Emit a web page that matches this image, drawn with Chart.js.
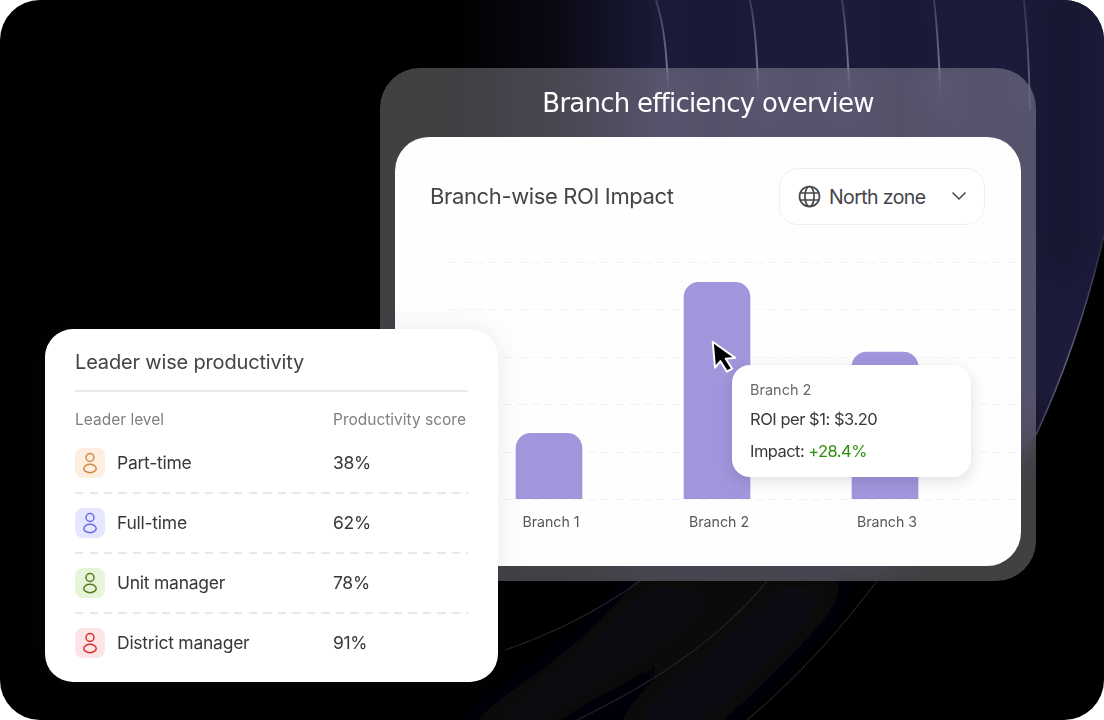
<!DOCTYPE html>
<html><head><meta charset="utf-8">
<script src="https://cdn.jsdelivr.net/npm/chart.js@4"></script>
<style>
html,body{margin:0;padding:0;background:#fff}
#page{position:relative;width:1104px;height:720px;overflow:hidden;font-family:Inter,sans-serif;background:#fff}
#bg{position:absolute;inset:0;border-radius:40px;background:#000;overflow:hidden}
#bg svg{position:absolute;left:0;top:0}
#glass{position:absolute;left:380px;top:68px;width:656px;height:513px;border-radius:40px;background:rgba(250,244,255,.262);backdrop-filter:blur(14px)}
#title{position:absolute;left:0;width:100%;top:17px;text-align:center;color:#fff;font-size:26px;font-weight:500;line-height:36px;font-family:"DejaVu Sans",sans-serif;letter-spacing:-.77px}
#card{position:absolute;left:395px;top:137px;width:626px;height:429px;border-radius:34px;background:#fefefe;overflow:hidden}
#card canvas{position:absolute;left:0;top:0}
#h2{position:absolute;left:35px;top:44px;font-size:22px;line-height:30px;color:#454448;letter-spacing:-.37px}
#dd{position:absolute;left:384px;top:31px;width:204px;height:55px;border:1px solid #efedf0;border-radius:19px;background:#fff;box-sizing:content-box}
#dd svg{position:absolute}
#dd span{position:absolute;left:49px;top:14px;font-size:19.5px;line-height:28px;color:#444347;letter-spacing:-.6px}
#tip{position:absolute;left:732px;top:365px;width:239px;height:112px;border-radius:18px;background:#fff;box-shadow:0 4px 14px rgba(60,50,90,.16)}
#tip div{position:absolute;left:18px;white-space:nowrap}
#t1{top:15px;font-size:14.5px;line-height:20px;color:#69686c}
#t2{top:42px;font-size:16.5px;line-height:24px;color:#3a393d;letter-spacing:-.47px}
#t3{top:74px;font-size:16.5px;line-height:24px;color:#3a393d;letter-spacing:-.55px}
#t3 b{font-weight:400;color:#2f8f0c}
#cursor{position:absolute;left:706px;top:336px}
#left{position:absolute;left:45px;top:329px;width:453px;height:353px;border-radius:28px;background:#fff;box-shadow:0 0 26px rgba(70,60,110,.10)}
#lt{position:absolute;left:30px;top:19px;font-size:20px;line-height:28px;color:#444347;letter-spacing:-.17px}
#ld{position:absolute;left:30px;top:61px;width:393px;height:2px;background:#e9e9eb}
.th{position:absolute;top:80px;font-size:15.5px;line-height:22px;color:#808083}
.row{position:absolute;left:30px;width:393px;height:30px}
.row svg{position:absolute;left:0;top:0}
.row .n{position:absolute;left:42px;top:1px;font-size:17.5px;line-height:28px;color:#38373b;letter-spacing:-.25px}
.row .s{position:absolute;left:258px;top:1px;font-size:17.5px;line-height:28px;color:#38373b;letter-spacing:-.3px}
.dash{position:absolute;left:30px;width:393px;height:2px;background:repeating-linear-gradient(90deg,#e8e8ea 0 8px,transparent 8px 14.5px)}
</style></head><body>
<div id="page">
 <div id="bg">
 <svg width="1104" height="720" viewBox="0 0 1104 720">
  <defs>
   <linearGradient id="navy" gradientUnits="userSpaceOnUse" x1="450" y1="0" x2="665" y2="0">
    <stop offset="0" stop-color="#1c1b3a" stop-opacity="0"/><stop offset=".5" stop-color="#1c1b3a" stop-opacity=".35"/><stop offset="1" stop-color="#1c1b3a"/>
   </linearGradient>
   <linearGradient id="fade" gradientUnits="userSpaceOnUse" x1="0" y1="380" x2="0" y2="575">
    <stop offset="0" stop-color="#000" stop-opacity="0"/><stop offset="1" stop-color="#000" stop-opacity=".72"/>
   </linearGradient>
   <linearGradient id="edge" gradientUnits="userSpaceOnUse" x1="1104" y1="235" x2="1030" y2="440">
    <stop offset="0" stop-color="#2a2a48"/><stop offset=".6" stop-color="#60607c"/><stop offset="1" stop-color="#3e3e56"/>
   </linearGradient>
   <linearGradient id="ar" gradientUnits="userSpaceOnUse" x1="0" y1="0" x2="0" y2="70">
    <stop offset="0" stop-color="#3c3c58"/><stop offset="1" stop-color="#74748f"/>
   </linearGradient>
   <filter id="b1" filterUnits="userSpaceOnUse" x="300" y="-100" width="900" height="950"><feGaussianBlur stdDeviation="20"/></filter>
   <filter id="b2" filterUnits="userSpaceOnUse" x="400" y="-20" width="720" height="780"><feGaussianBlur stdDeviation=".5"/></filter>
   <clipPath id="reg"><path d="M450 0H1104V235C1088 305 1066 370 1036 435C985 500 930 550 877 575L450 575Z"/></clipPath>
  </defs>
  <g clip-path="url(#reg)">
   <rect x="450" y="0" width="654" height="576" fill="url(#navy)"/>
   <rect x="450" y="380" width="654" height="196" fill="url(#fade)"/>
   <g fill="#000" opacity=".2" filter="url(#b1)">
    <rect x="700" y="-20" width="24" height="240"/><rect x="890" y="-20" width="22" height="240"/><rect x="1045" y="-20" width="36" height="300"/>
   </g>
  </g>
  <g fill="none" stroke="url(#ar)" stroke-width="1.9" filter="url(#b2)">
   <path d="M656 0C664 25 667 50 669 110"/>
   <path d="M750 0C755 25 757 50 759 110"/>
   <path d="M842 0C846 25 848 50 850 110"/>
   <path d="M934 0C937 25 939 50 941 110"/>
   <path d="M1024 0C1027 30 1029 60 1030 110" opacity=".7"/>
  </g>
  <path d="M1104 235C1088 305 1066 370 1036 435" fill="none" stroke="url(#edge)" stroke-width="1.5" filter="url(#b2)"/>
  <g filter="url(#b1)" fill="#111119">
   <path d="M860 575C810 640 760 690 700 740L590 740C650 690 720 640 775 575Z" opacity=".9"/>
   <path d="M755 575C690 640 610 690 520 745L440 740C530 680 590 640 640 575Z" opacity=".75"/>
  </g>
  <g fill="none" stroke="#23232b" stroke-width="1.1" filter="url(#b2)">
   <path d="M877 581C840 630 795 680 747 720"/>
   <path d="M767 581C720 640 650 685 577 720"/>
   <path d="M640 581C600 610 550 635 505 650"/>
  </g>
 </svg>
 </div>
 <div id="glass"><div id="title"></div></div>
 <div id="card">
  <canvas id="chart" width="626" height="429"></canvas>
  <div id="h2"></div>
  <div id="dd">
   <svg style="left:18px;top:16px" width="23" height="23" viewBox="0 0 23 23" fill="none" stroke="#47464a" stroke-width="1.7"><circle cx="11.5" cy="11.5" r="10"/><ellipse cx="11.5" cy="11.5" rx="4.6" ry="10"/><path d="M2.4 8H20.6M2.4 15H20.6"/></svg>
   <span id="zone"></span>
   <svg style="left:171px;top:22px" width="16" height="10" viewBox="0 0 16 10" fill="none" stroke="#47464a" stroke-width="1.5"><path d="M1.5 1.5L8 8L14.5 1.5"/></svg>
  </div>
 </div>
 <svg id="cursor" width="34" height="40" viewBox="0 0 34 40"><path d="M8 5L8 31L14 25L19.5 36L25 33.5L19.5 23H29Z" transform="rotate(-5 16 20)" fill="#000" stroke="#fff" stroke-width="2" stroke-linejoin="round"/></svg>
 <div id="tip"><div id="t1"></div><div id="t2"></div><div id="t3"></div></div>
 <div id="left">
  <div id="lt"></div><div id="ld"></div>
  <div class="th" id="th1" style="left:30px"></div>
  <div class="th" id="th2" style="left:288px"></div>
 </div>
</div>
<script>
const chartTitle = "Branch efficiency overview";
const subTitle = "Branch-wise ROI Impact";
const zone = "North zone";
const categories = ["Branch 1", "Branch 2", "Branch 3"];
const roiValues = [0.97, 3.20, 2.17];
const impactValues = ["", "+28.4%", ""];
const yTicks = [0, 0.7, 1.4, 2.1, 2.8, 3.5];
const activeIndex = 1;
const tableTitle = "Leader wise productivity";
const tableHeaders = ["Leader level", "Productivity score"];
const leaderLevels = ["Part-time", "Full-time", "Unit manager", "District manager"];
const productivity = [38, 62, 78, 91];
const iconBg = ["#fdeedf", "#e6e6ff", "#e6f5d9", "#fde4e6"];
const iconFg = ["#cf8a48", "#6d6be2", "#58791f", "#d8312f"];

document.getElementById("title").textContent = chartTitle;
document.getElementById("h2").textContent = subTitle;
document.getElementById("zone").textContent = zone;
document.getElementById("t1").textContent = categories[activeIndex];
document.getElementById("t2").textContent = "ROI per $1: $" + roiValues[activeIndex].toFixed(2);
document.getElementById("t3").innerHTML = "Impact: <b>" + impactValues[activeIndex] + "</b>";
document.getElementById("lt").textContent = tableTitle;
document.getElementById("th1").textContent = tableHeaders[0];
document.getElementById("th2").textContent = tableHeaders[1];

const left = document.getElementById("left");
leaderLevels.forEach((name, i) => {
  const r = document.createElement("div");
  r.className = "row";
  r.style.top = (119 + i * 60) + "px";
  r.innerHTML = '<svg width="30" height="30" viewBox="0 0 30 30"><rect width="30" height="30" rx="8" fill="' + iconBg[i] + '"/>' +
    '<g fill="none" stroke="' + iconFg[i] + '" stroke-width="1.5"><circle cx="15" cy="9.5" r="4"/><ellipse cx="15" cy="20.5" rx="6.2" ry="4.2"/></g></svg>' +
    '<div class="n"></div><div class="s"></div>';
  r.querySelector(".n").textContent = name;
  r.querySelector(".s").textContent = productivity[i] + "%";
  left.appendChild(r);
  if (i < leaderLevels.length - 1) {
    const d = document.createElement("div");
    d.className = "dash";
    d.style.top = (163 + i * 60) + "px";
    left.appendChild(d);
  }
});

const wideGrid = {
  id: "wideGrid",
  beforeDatasetsDraw(chart) {
    const y = chart.scales.y, c = chart.ctx;
    c.save();
    c.strokeStyle = "#f3f1f6";
    c.lineWidth = 1;
    c.setLineDash([9, 5]);
    y.ticks.forEach(t => {
      const p = Math.round(y.getPixelForValue(t.value)) + 0.5;
      c.beginPath();
      c.moveTo(chart.chartArea.left - 18, p);
      c.lineTo(chart.width, p);
      c.stroke();
    });
    c.restore();
  }
};

new Chart(document.getElementById("chart"), {
  type: "bar",
  data: { labels: categories, datasets: [{
    data: roiValues,
    backgroundColor: "#a195dc",
    barThickness: 66,
    borderRadius: { topLeft: 15, topRight: 15, bottomLeft: 0, bottomRight: 0 },
    borderSkipped: false
  }]},
  options: {
    responsive: false, animation: false, devicePixelRatio: 1,
    layout: { padding: { left: 70, right: 52, top: 125, bottom: 0 } },
    plugins: { legend: { display: false }, tooltip: { enabled: false } },
    scales: {
      x: {
        grid: { display: false }, border: { display: false },
        ticks: { color: "#58575b", padding: 7, labelOffset: 2, font: { family: "Inter", size: 14.2 } },
        afterFit(s) { s.height = 67; }
      },
      y: {
        min: yTicks[0], max: yTicks[yTicks.length - 1],
        afterFit(s) { s.width = 0; },
        grid: { display: false }, border: { display: false },
        ticks: { display: false, stepSize: yTicks[1] - yTicks[0] }
      }
    }
  },
  plugins: [wideGrid]
});
</script>
</body></html>
